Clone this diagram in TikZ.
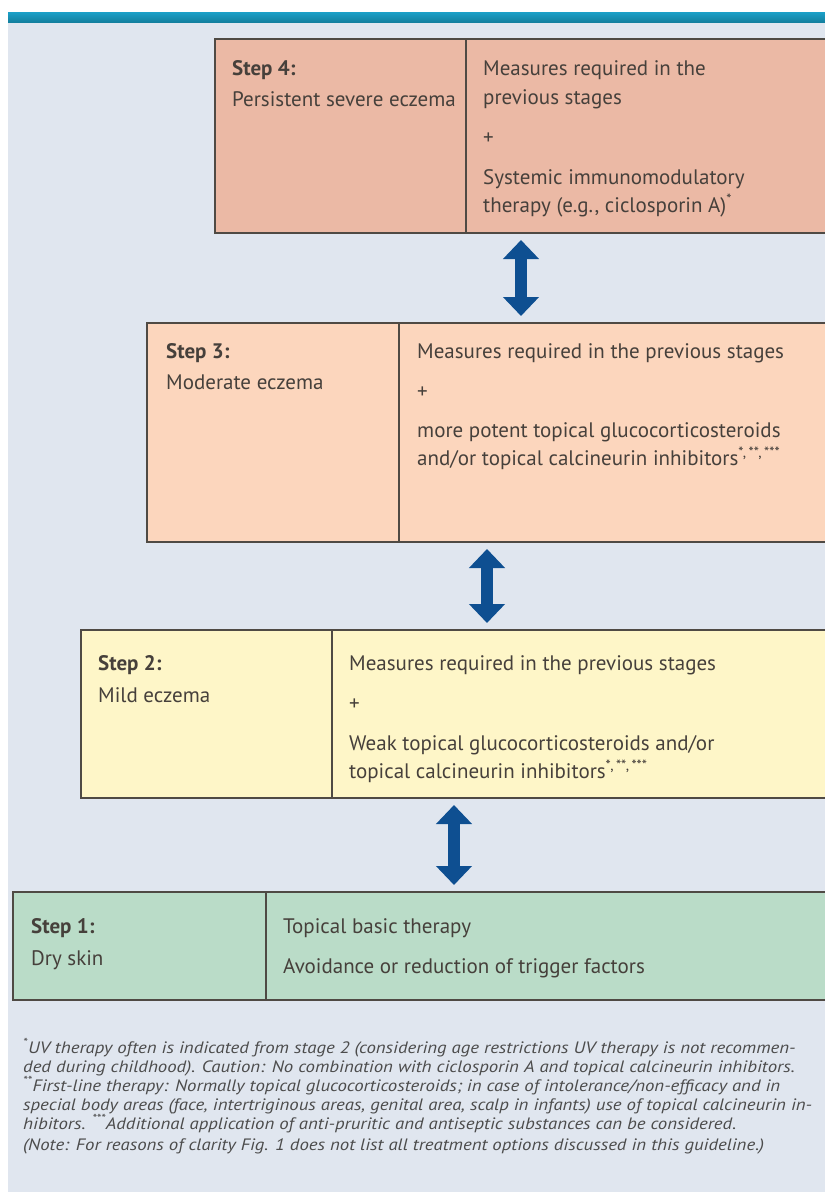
\documentclass[tikz,border=0pt]{standalone}
\usepackage{fontspec}
\usepackage{graphicx}
\setmainfont{PT Sans}
\usetikzlibrary{arrows.meta}
\definecolor{bgc}{HTML}{E0E6EF}
\definecolor{tealtop}{HTML}{1CA0C8}
\definecolor{tealbot}{HTML}{13809F}
\definecolor{cfour}{HTML}{EBB9A5}
\definecolor{cthree}{HTML}{FCD6BD}
\definecolor{ctwo}{HTML}{FEF6C8}
\definecolor{cone}{HTML}{BADCC8}
\definecolor{boxline}{HTML}{4F4A44}
\definecolor{arrc}{HTML}{0E4F91}
\definecolor{txtc}{HTML}{46403B}
\definecolor{fnc}{HTML}{4C4C4C}
\newcommand{\fnline}[1]{\scalebox{1.14}[1]{#1}}
\begin{document}
\begin{tikzpicture}[x=1pt,y=-1pt,
  stepbox/.style={draw=boxline, line width=1.8pt, inner sep=0pt, outer sep=0pt, anchor=north west},
  divl/.style={draw=boxline, line width=1.8pt},
  txt/.style={anchor=base west, inner sep=0pt, text=txtc, font=\fontsize{21}{25}\selectfont},
  boldtxt/.style={anchor=base west, inner sep=0pt, text=txtc, font=\fontsize{21}{25}\selectfont\bfseries},
  fn/.style={anchor=base west, inner sep=0pt, text=fnc, font=\fontsize{16.5}{19}\selectfont\itshape},
  dblarr/.style={draw=arrc, line width=12pt, {Triangle[width=35pt,length=19pt]}-{Triangle[width=35pt,length=19pt]}, shorten <=7pt, shorten >=7pt}]
\useasboundingbox (0,0) rectangle (825,1203);
\fill[white] (0,0) rectangle (825,1203);
\fill[bgc] (8,22) rectangle (825,1192);
\shade[top color=tealtop, bottom color=tealbot] (8,12) rectangle (825,22);

% boxes
\node[stepbox, fill=cfour, minimum width=612pt, minimum height=194pt] (s4) at (215,39) {};
\node[stepbox, fill=cthree, minimum width=680pt, minimum height=219pt] (s3) at (147,323) {};
\node[stepbox, fill=ctwo, minimum width=746pt, minimum height=168pt] (s2) at (81,630) {};
\node[stepbox, fill=cone, minimum width=814pt, minimum height=108pt] (s1) at (13,892) {};

% dividers
\draw[divl] ([xshift=251pt]s4.north west) -- ([xshift=251pt]s4.south west);
\draw[divl] ([xshift=252pt]s3.north west) -- ([xshift=252pt]s3.south west);
\draw[divl] ([xshift=251pt]s2.north west) -- ([xshift=251pt]s2.south west);
\draw[divl] ([xshift=253pt]s1.north west) -- ([xshift=253pt]s1.south west);

% arrows
\draw[dblarr] (s4.south) -- (s4.south |- s3.north);
\draw[dblarr] (s3.south) -- (s3.south |- s2.north);
\draw[dblarr] (s2.south) -- (s2.south |- s1.north);

% step 4
\node[boldtxt] (t4a) at (232,75) {Step 4:};
\node[txt] (t4b) at (232,106) {Persistent severe eczema};
\node[txt] (t4c) at (483,75) {Measures required in the};
\node[txt] (t4d) at (483,104) {previous stages};
\node[txt] (t4e) at (483,144) {+};
\node[txt] (t4f) at (483,184) {Systemic immunomodulatory};
\node[txt] (t4g) at (483,212) {therapy (e.g., ciclosporin A)\textsuperscript{*}};

% step 3
\node[boldtxt] (t3a) at (166,358) {Step 3:};
\node[txt] (t3b) at (166,389) {Moderate eczema};
\node[txt] (t3c) at (417,358) {Measures required in the previous stages};
\node[txt] (t3d) at (417,398) {+};
\node[txt] (t3e) at (417,437) {more potent topical glucocorticosteroids};
\node[txt] (t3f) at (417,465) {and/or topical calcineurin inhibitors\textsuperscript{*,\,**,\,***}};

% step 2
\node[boldtxt] (t2a) at (98,670) {Step 2:};
\node[txt] (t2b) at (98,702) {Mild eczema};
\node[txt] (t2c) at (349,670) {Measures required in the previous stages};
\node[txt] (t2d) at (349,710) {+};
\node[txt] (t2e) at (349,750) {Weak topical glucocorticosteroids and/or};
\node[txt] (t2f) at (349,778) {topical calcineurin inhibitors\textsuperscript{*,\,**,\,***}};

% step 1
\node[boldtxt] (t1a) at (31,933) {Step 1:};
\node[txt] (t1b) at (31,965) {Dry skin};
\node[txt] (t1c) at (283,933) {Topical basic therapy};
\node[txt] (t1d) at (283,973) {Avoidance or reduction of trigger factors};

% footnotes
\node[fn] (f1) at (23,1053) {\fnline{\textsuperscript{*}UV therapy often is indicated from stage 2 (considering age restrictions UV therapy is not recommen-}};
\node[fn] (f2) at (23,1072) {\fnline{ded during childhood). Caution: No combination with ciclosporin A and topical calcineurin inhibitors.}};
\node[fn] (f3) at (23,1091) {\fnline{\textsuperscript{**}First-line therapy: Normally topical glucocorticosteroids; in case of intolerance/non-efficacy and in}};
\node[fn] (f4) at (23,1110) {\fnline{special body areas (face, intertriginous areas, genital area, scalp in infants) use of topical calcineurin in-}};
\node[fn] (f5) at (23,1129) {\fnline{hibitors. \textsuperscript{***}Additional application of anti-pruritic and antiseptic substances can be considered.}};
\node[fn] (f6) at (23,1150) {\fnline{(Note: For reasons of clarity Fig. 1 does not list all treatment options discussed in this guideline.)}};
\end{tikzpicture}
\end{document}
